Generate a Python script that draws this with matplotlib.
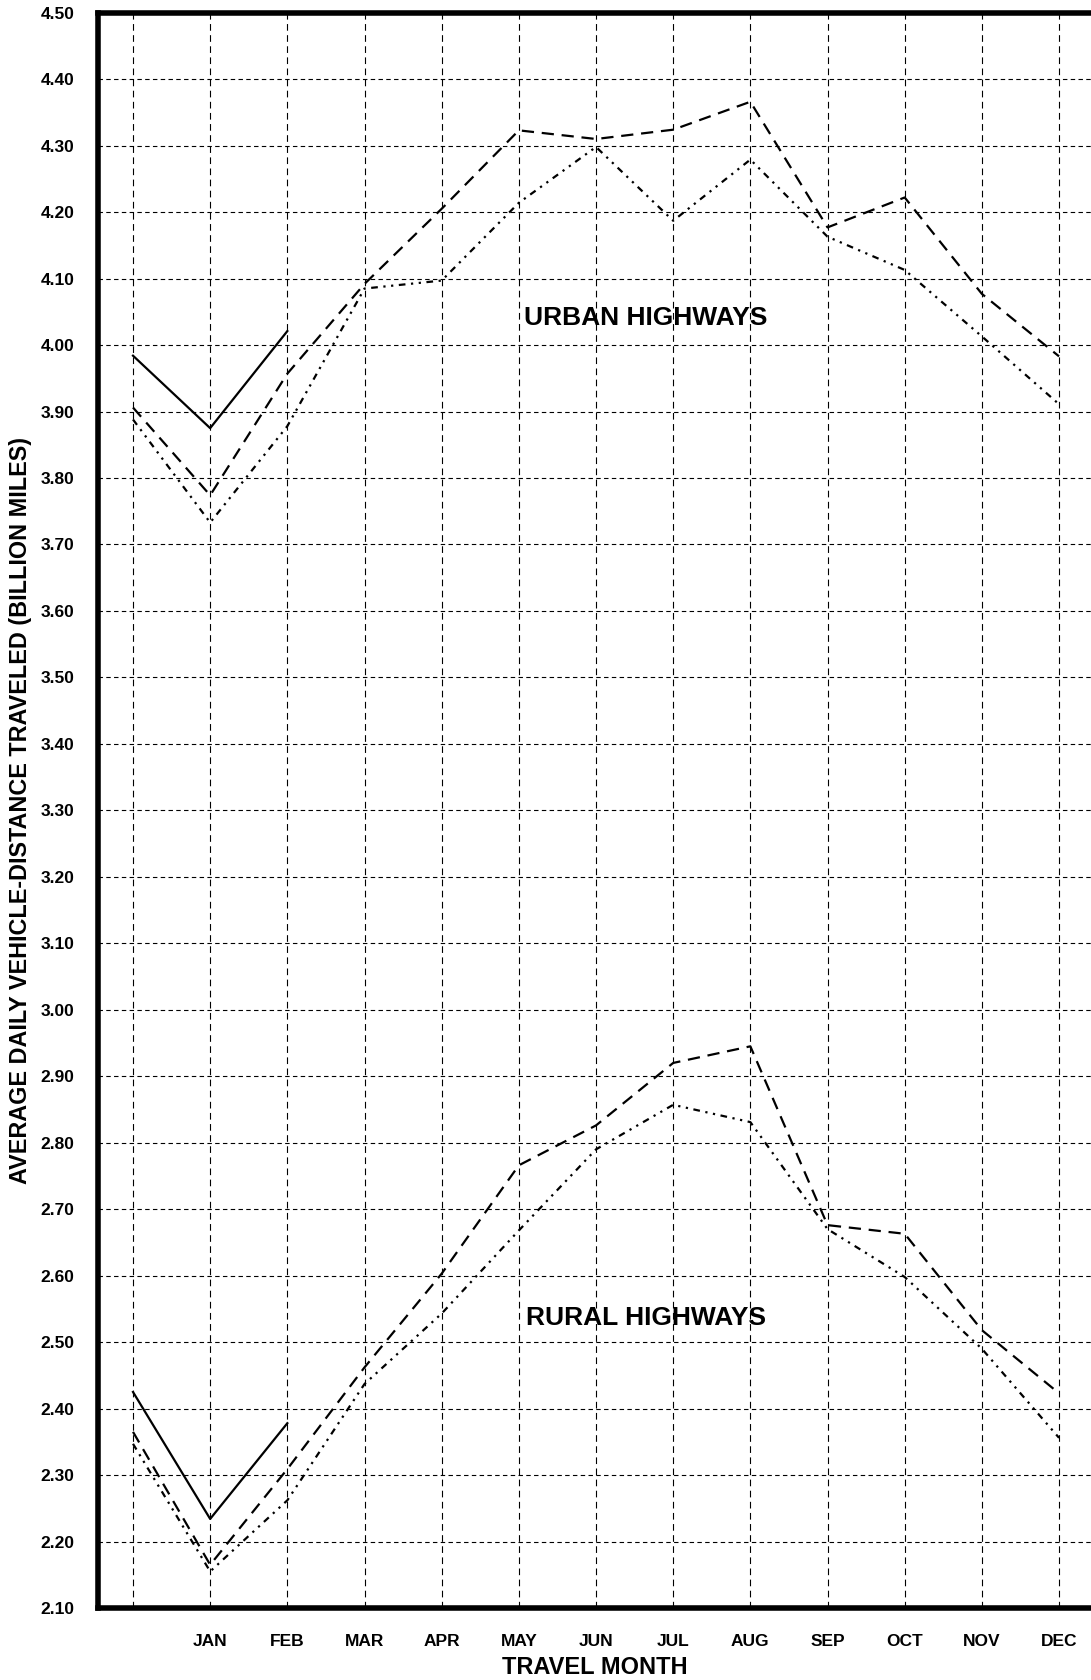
import matplotlib
matplotlib.use("Agg")
import matplotlib.pyplot as plt
import numpy as np

plt.rcParams['font.family'] = ['Liberation Sans', 'DejaVu Sans']
plt.rcParams['font.weight'] = 'bold'

# ---- data ----
positions = list(range(13))           # prior DEC, JAN..DEC
month_labels = ['', 'JAN', 'FEB', 'MAR', 'APR', 'MAY', 'JUN',
                'JUL', 'AUG', 'SEP', 'OCT', 'NOV', 'DEC']

urban_solid = [3.984, 3.875, 4.021]
urban_dashed = [3.906, 3.774, 3.957, 4.092, 4.205, 4.323, 4.310,
                4.324, 4.366, 4.177, 4.222, 4.077, 3.983]
urban_dotted = [3.888, 3.733, 3.878, 4.085, 4.097, 4.214, 4.298,
                4.187, 4.279, 4.163, 4.113, 4.013, 3.911]

rural_solid = [2.425, 2.234, 2.378]
rural_dashed = [2.365, 2.165, 2.309, 2.462, 2.603, 2.766, 2.826,
                2.920, 2.945, 2.676, 2.663, 2.518, 2.423]
rural_dotted = [2.347, 2.155, 2.262, 2.437, 2.543, 2.668, 2.790,
                2.857, 2.831, 2.670, 2.598, 2.490, 2.356]

y_ticks = [round(2.10 + 0.1 * i, 2) for i in range(25)]

# ---- figure ----
W, H = 1091, 1680
fig = plt.figure(figsize=(W / 100, H / 100), dpi=100)
left_px, top_px, bottom_px = 98, 12.7, 1608
px_per_unit = 77.17
xmin, xmax = -0.4535, 12.9
ax_w = (xmax - xmin) * px_per_unit
ax = fig.add_axes([left_px / W, (H - bottom_px) / H, ax_w / W, (bottom_px - top_px) / H])

ax.set_xlim(xmin, xmax)
ax.set_ylim(2.10, 4.50)

lw = 1.6
dash_style = (0, (5.5, 3.5))
dotdash_style = (0, (3, 2.5, 1, 2.5, 1, 2.5))

for solid, dashed, dotted in [(urban_solid, urban_dashed, urban_dotted),
                              (rural_solid, rural_dashed, rural_dotted)]:
    ax.plot(positions[:len(solid)], solid, color='black', lw=lw, linestyle='-')
    ax.plot(positions, dashed, color='black', lw=lw, linestyle=dash_style)
    ax.plot(positions, dotted, color='black', lw=lw, linestyle=dotdash_style)

# grid
ax.set_xticks(positions)
ax.set_xticklabels(month_labels)
ax.set_yticks(y_ticks)
ax.set_yticklabels([f"{v:.2f}" for v in y_ticks])
ax.grid(True, which='major', axis='x', color='black', lw=0.8, linestyle=(0, (6, 4)))
ax.grid(True, which='major', axis='y', color='black', lw=0.8, linestyle=(0, (4, 3)))
ax.set_axisbelow(True)

ax.tick_params(axis='both', length=0, labelsize=12.5)
ax.tick_params(axis='y', pad=17)
ax.tick_params(axis='x', pad=19)
for lab in ax.get_xticklabels() + ax.get_yticklabels():
    lab.set_fontweight('bold')

for side in ['left', 'bottom', 'top']:
    ax.spines[side].set_linewidth(4)
ax.spines['right'].set_visible(False)

ax.text(6.65, 4.04, 'URBAN HIGHWAYS', ha='center', va='center',
        fontsize=19, fontweight='bold')
ax.text(6.65, 2.537, 'RURAL HIGHWAYS', ha='center', va='center',
        fontsize=19, fontweight='bold')

fig.text(595 / W, 1 - 1667 / H, 'TRAVEL MONTH', ha='center', va='center',
         fontsize=17, fontweight='bold')
fig.text(21 / W, 1 - 811 / H,
         'AVERAGE DAILY VEHICLE-DISTANCE TRAVELED (BILLION MILES)',
         ha='center', va='center', rotation=90, fontsize=16.8, fontweight='bold')

fig.savefig('out.png', dpi=100)
